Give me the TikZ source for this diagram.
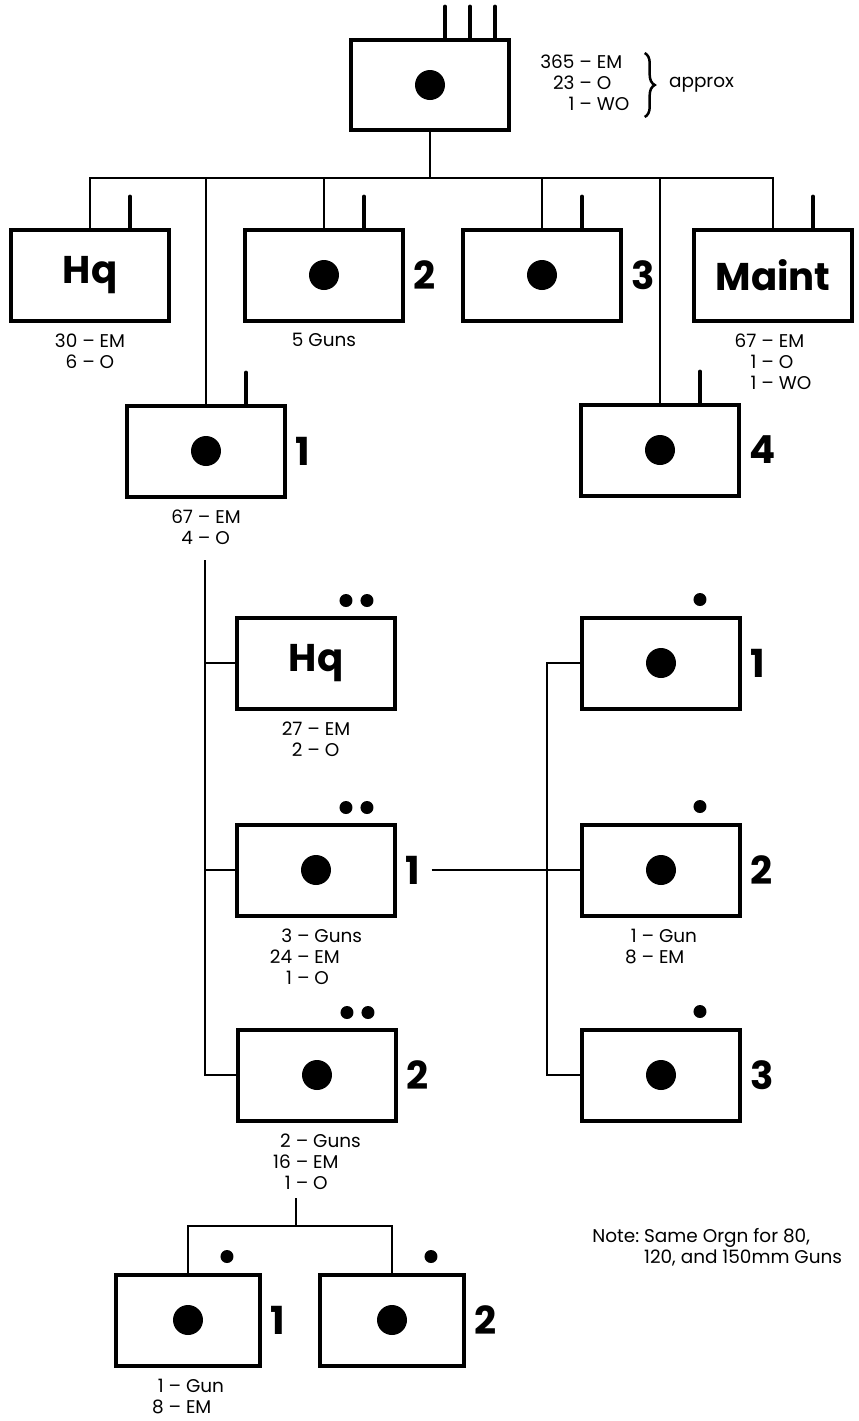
\documentclass[tikz,border=0pt]{standalone}
\usepackage{fontspec}
\setmainfont{Poppins}
\usetikzlibrary{positioning,decorations.pathreplacing}
\newcommand{\tally}[1]{\begin{tabular}{@{}r@{~\textendash~}l@{}}#1\end{tabular}}

\begin{document}
\begin{tikzpicture}[
    x=0.02cm, y=-0.02cm,
    every node/.style={font=\fontsize{10.5}{12}\selectfont},
    unit/.style={draw, line width=0.08cm, minimum width=3.16cm, minimum height=1.82cm, inner sep=0pt, font=\fontsize{22}{24}\selectfont\bfseries},
    half/.style={unit, minimum width=2.9cm},
    num/.style={font=\fontsize{22}{24}\selectfont\bfseries, inner sep=1pt},
    strength/.style={inner sep=0pt, align=center},
    link/.style={line width=0.04cm},
    ant/.style={line width=0.075cm, line cap=round},
    brc/.style={decorate, decoration={brace, amplitude=0.2cm}, line width=0.05cm}
]
  \useasboundingbox (0,0) rectangle (859,1421);

  % battalion
  \node[unit] (bn)  at (430,85)  {};
  \node[unit] (hq)  at (90,275)  {Hq};
  \node[unit] (b2)  at (324,275) {};
  \node[unit] (b3)  at (542,275) {};
  \node[unit] (mnt) at (773,275) {Maint};
  \node[unit] (b1)  at (206,451) {};
  \node[unit] (b4)  at (660,450) {};

  % battery 1
  \node[unit] (phq) at (316,663)  {Hq};
  \node[unit] (p1)  at (316,870)  {};
  \node[unit] (p2)  at (317,1075) {};
  \node[unit] (s1)  at (661,663)  {};
  \node[unit] (s2)  at (661,870)  {};
  \node[unit] (s3)  at (661,1075) {};
  \node[half] (g1)  at (188,1320) {};
  \node[half] (g2)  at (392,1320) {};

  \foreach \n/\t in {b2/2,b3/3,b1/1,b4/4,p1/1,p2/2,s1/1,s2/2,s3/3,g1/1,g2/2}{
    \node[num, right=0.12cm of \n] (\n-n) {\t};
  }

  \foreach \n in {bn,b2,b3,b1,b4,p1,p2,s1,s2,s3,g1,g2}{
    \fill (\n) circle (0.3cm);
  }
  \foreach \n in {phq,p1,p2}{
    \fill ([xshift=0.6cm,yshift=0.3cm]\n.north) circle (0.13cm);
    \fill ([xshift=1.02cm,yshift=0.3cm]\n.north) circle (0.13cm);
  }
  \foreach \n in {s1,s2,s3,g1,g2}{
    \fill ([xshift=0.78cm,yshift=0.32cm]\n.north) circle (0.13cm);
  }

  % strengths
  \node[strength, anchor=west] (bnt) at (540,85) {\tally{365 & EM\\23 & O\\1 & WO}};
  \draw[brc] ([xshift=0.3cm]bnt.north east) -- ([xshift=0.3cm]bnt.south east);
  \node[strength, right=0.78cm of bnt] (apx) {approx};

  \node[strength, below=0.2cm of hq]  (hqt)  {\tally{30 & EM\\6 & O}};
  \node[strength, below=0.2cm of b2]  (b2t)  {5 Guns};
  \node[strength, below=0.2cm of mnt] (mntt) {\tally{67 & EM\\1 & O\\1 & WO}};
  \node[strength, below=0.2cm of b1]  (b1t)  {\tally{67 & EM\\4 & O}};
  \node[strength, below=0.2cm of phq] (phqt) {\tally{27 & EM\\2 & O}};
  \node[strength, below=0.2cm of p1]  (p1t)  {\tally{3 & Guns\\24 & EM\\1 & O}};
  \node[strength, below=0.2cm of s2]  (s2t)  {\tally{1 & Gun\\8 & EM}};
  \node[strength, below=0.2cm of p2]  (p2t)  {\tally{2 & Guns\\16 & EM\\1 & O}};
  \node[strength, below=0.2cm of g1]  (g1t)  {\tally{1 & Gun\\8 & EM}};

  \node[strength, anchor=west] (note) at (592,1249)
    {\begin{tabular}{@{}l@{~}l@{}}Note: & Same Orgn for 80,\\ & 120, and 150mm Guns\end{tabular}};

  % antennas
  \foreach \dx in {0.3,0.8,1.3}{
    \draw[ant] ([xshift=\dx cm]bn.north) -- ++(0,-31);
  }
  \foreach \n in {hq,b2,b3,mnt,b1,b4}{
    \draw[ant] ([xshift=0.8cm]\n.north) -- ++(0,-31);
  }

  % lines
  \coordinate (bus) at (430,178);
  \draw[link] (bn.south) -- (bus);
  \draw[link] (hq.north) |- (bus) -| (mnt.north);
  \foreach \n in {b2,b3,b1,b4}{
    \draw[link] (\n.north) -- (\n.north |- bus);
  }

  \coordinate (trunk) at (205,560);
  \draw[link] (trunk) |- (p2.west);
  \foreach \n in {phq,p1}{
    \draw[link] (\n.west) -- (\n.west -| trunk);
  }
  \draw[link] ([xshift=0.2cm]p1-n.east) -- (s2.west);
  \draw[link] (s1.west) -- ++(-33,0) |- (s3.west);

  \coordinate (gtop) at (296,1198);
  \coordinate (gbus) at (296,1226);
  \draw[link] (gtop) -- (gbus);
  \draw[link] (g1.north) |- (gbus) -| (g2.north);
\end{tikzpicture}
\end{document}
